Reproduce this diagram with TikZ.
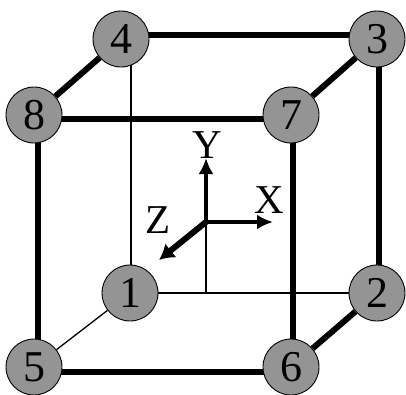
\documentclass[tikz,border=0pt]{standalone}
\usepackage{fontspec}
\setmainfont{Liberation Serif}
\usetikzlibrary{arrows.meta}
\tikzset{
  vertex/.style={circle,draw=black,line width=0.9pt,fill=black!42,minimum size=56pt,inner sep=0pt,font=\fontsize{44}{44}\selectfont},
  thick edge/.style={line width=6pt,black},
  thin edge/.style={line width=1.3pt,black},
  axis/.style={line width=4.5pt,black,-{Latex[length=16pt,width=15pt]}},
  z axis/.style={line width=6pt,black,-{Latex[length=15pt,width=18pt]}},
  axis label/.style={inner sep=0pt,font=\fontsize{41}{41}\selectfont}
}
\begin{document}
\begin{tikzpicture}[x=1pt,y=-1pt]
\useasboundingbox (0,0) rectangle (406,394);
\fill[white] (0,0) rectangle (406,394);
\coordinate (o) at (206,222);
% edge anchors
\coordinate (a4) at (121,35);  \coordinate (a3) at (377,35);
\coordinate (a8) at (34,119);  \coordinate (a7) at (291,119);
\coordinate (b8) at (38,116);  \coordinate (b5) at (38,367);
\coordinate (c7) at (293,116); \coordinate (c6) at (293,367);
\coordinate (d3) at (379,39);  \coordinate (d2) at (379,293);
\coordinate (e5) at (34,372);  \coordinate (e6) at (291,372);
\coordinate (f4) at (131,39);  \coordinate (f1) at (131,293);
\coordinate (g1) at (130,293); \coordinate (g2) at (377,293);
\coordinate (ob) at (206,293);
\draw[thin edge] (f4) -- (f1);
\draw[thin edge] (g1) -- (g2);
\draw[thin edge] (o) -- (ob);
\draw[thick edge] (a4) -- (a3);
\draw[thick edge] (a8) -- (a7);
\draw[thick edge] (b8) -- (b5);
\draw[thick edge] (c7) -- (c6);
\draw[thick edge] (d3) -- (d2);
\draw[thick edge] (e5) -- (e6);
\node[vertex] (n4) at (121,39) {4};
\node[vertex] (n3) at (377,39) {3};
\node[vertex] (n8) at (34,115) {8};
\node[vertex] (n7) at (291,115) {7};
\node[vertex] (n1) at (130,293) {1};
\node[vertex] (n2) at (377,293) {2};
\node[vertex] (n5) at (34,367) {5};
\node[vertex] (n6) at (291,367) {6};
\draw[thick edge] (n4) -- (n8);
\draw[thick edge] (n3) -- (n7);
\draw[thick edge] (n2) -- (n6);
\draw[thin edge] (n1) -- (n5);
\coordinate (ty) at (206,158);
\coordinate (tx) at (273,222);
\coordinate (tz) at (159,260);
\draw[axis] (o) -- (ty);
\draw[axis] (o) -- (tx);
\draw[z axis] (o) -- (tz);
\node[axis label] (ly) at (207,145) {Y};
\node[axis label] (lx) at (269,200) {X};
\node[axis label] (lz) at (158,220) {Z};
\end{tikzpicture}
\end{document}
